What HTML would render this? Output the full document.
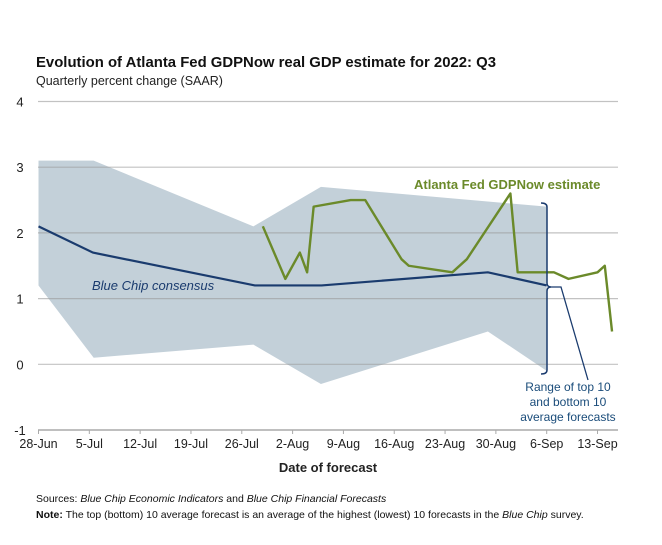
<!DOCTYPE html>
<html><head><meta charset="utf-8"><style>
body{margin:0;background:#fff;}
svg text{font-family:"Liberation Sans",sans-serif;}
</style></head><body>
<svg id="chart" width="662" height="540" xmlns="http://www.w3.org/2000/svg">
<text x="36" y="67" font-size="15" font-weight="bold" fill="#111" textLength="460" lengthAdjust="spacingAndGlyphs">Evolution of Atlanta Fed GDPNow real GDP estimate for 2022: Q3</text>
<text x="36" y="85" font-size="12.5" fill="#222">Quarterly percent change (SAAR)</text>
<g id="band"></g><g id="grid"></g><g id="lines"></g><g id="axes"></g>
<text x="328" y="472" font-size="13" font-weight="bold" fill="#222" text-anchor="middle">Date of forecast</text>
<text x="414" y="189" font-size="13" font-weight="bold" fill="#6b8a2a">Atlanta Fed GDPNow estimate</text>
<text x="92" y="290" font-size="13" font-style="italic" fill="#1a3b6e">Blue Chip consensus</text>
<g font-size="12" fill="#1a4c7a" text-anchor="middle">
<text x="568" y="391">Range of top 10</text>
<text x="568" y="406">and bottom 10</text>
<text x="568" y="421">average forecasts</text>
</g>
<path d="M541,203 Q547,203 547,207 L547,283 Q547,287 551,287 Q547,287 547,291 L547,370 Q547,374 541,374" fill="none" stroke="#1a3b6e" stroke-width="1.5"/>
<path d="M551,287 L561,287 L588,380" fill="none" stroke="#1a3b6e" stroke-width="1.3"/>
<text x="36" y="502" font-size="10.5" fill="#111">Sources: <tspan font-style="italic">Blue Chip Economic Indicators</tspan> and <tspan font-style="italic">Blue Chip Financial Forecasts</tspan></text>
<text x="36" y="518" font-size="10.5" fill="#111"><tspan font-weight="bold">Note:</tspan> The top (bottom) 10 average forecast is an average of the highest (lowest) 10 forecasts in the <tspan font-style="italic">Blue Chip</tspan> survey.</text>
</svg>
<script>
const yTicks=[4,3,2,1,0,-1];
const xTickLabels=["28-Jun","5-Jul","12-Jul","19-Jul","26-Jul","2-Aug","9-Aug","16-Aug","23-Aug","30-Aug","6-Sep","13-Sep"];
const bandUpperDays=[0,7.6,29.6,38.9,70];
const bandUpper=[3.1,3.1,2.1,2.7,2.4];
const bandLowerDays=[0,7.6,29.6,38.9,61.9,70];
const bandLower=[1.2,0.1,0.3,-0.3,0.5,-0.1];
const blueChipDays=[0,7.5,29.8,39,61.9,70];
const blueChip=[2.1,1.7,1.2,1.2,1.4,1.2];
const gdpDays=[30.9,34,36,37,37.9,43,45,50,51,57,59,65,66,71,73,77,78,79];
const gdpNow=[2.1,1.3,1.7,1.4,2.4,2.5,2.5,1.6,1.5,1.4,1.6,2.6,1.4,1.4,1.3,1.4,1.5,0.5];
const NS="http://www.w3.org/2000/svg";
const x=d=>38.5+d*7.26;
const y=v=>364.3-v*65.7;
function mk(tag,attrs,parent){const e=document.createElementNS(NS,tag);for(const k in attrs)e.setAttribute(k,attrs[k]);document.getElementById(parent).appendChild(e);return e;}
yTicks.forEach(v=>{
  if(v>-1){const l=mk("line",{x1:38,x2:618,y1:y(v),y2:y(v),stroke:"#999","stroke-opacity":0.6,"stroke-width":1.2},"grid");
  
  }
  const t=mk("text",{x:20,y:y(v)+5,"font-size":13,fill:"#222","text-anchor":"middle"},"axes");t.textContent=v;
  
  
});
const ax=mk("line",{x1:38,x2:618,y1:y(-1),y2:y(-1),stroke:"#aaa","stroke-width":1.5},"axes");


xTickLabels.forEach((s,i)=>{
  const tk=mk("line",{x1:x(i*7),x2:x(i*7),y1:y(-1),y2:y(-1)+4,stroke:"#aaa"},"axes");
  
  
  const t=mk("text",{x:x(i*7),y:448,"font-size":12.5,fill:"#222","text-anchor":"middle"},"axes");t.textContent=s;
  
  
});
let pts=bandUpperDays.map((d,i)=>x(d)+","+y(bandUpper[i]));
for(let i=bandLowerDays.length-1;i>=0;i--)pts.push(x(bandLowerDays[i])+","+y(bandLower[i]));
const band=mk("polygon",{points:pts.join(" "),fill:"#c3d0d9"},"band");


const bc=mk("polyline",{points:blueChipDays.map((d,i)=>x(d)+","+y(blueChip[i])).join(" "),fill:"none",stroke:"#1a3b6e","stroke-width":2.2},"lines");


const gl=mk("polyline",{points:gdpDays.map((d,i)=>x(d)+","+y(gdpNow[i])).join(" "),fill:"none",stroke:"#6b8a2a","stroke-width":2.4,"stroke-linejoin":"round"},"lines");


</script>
</body></html>
